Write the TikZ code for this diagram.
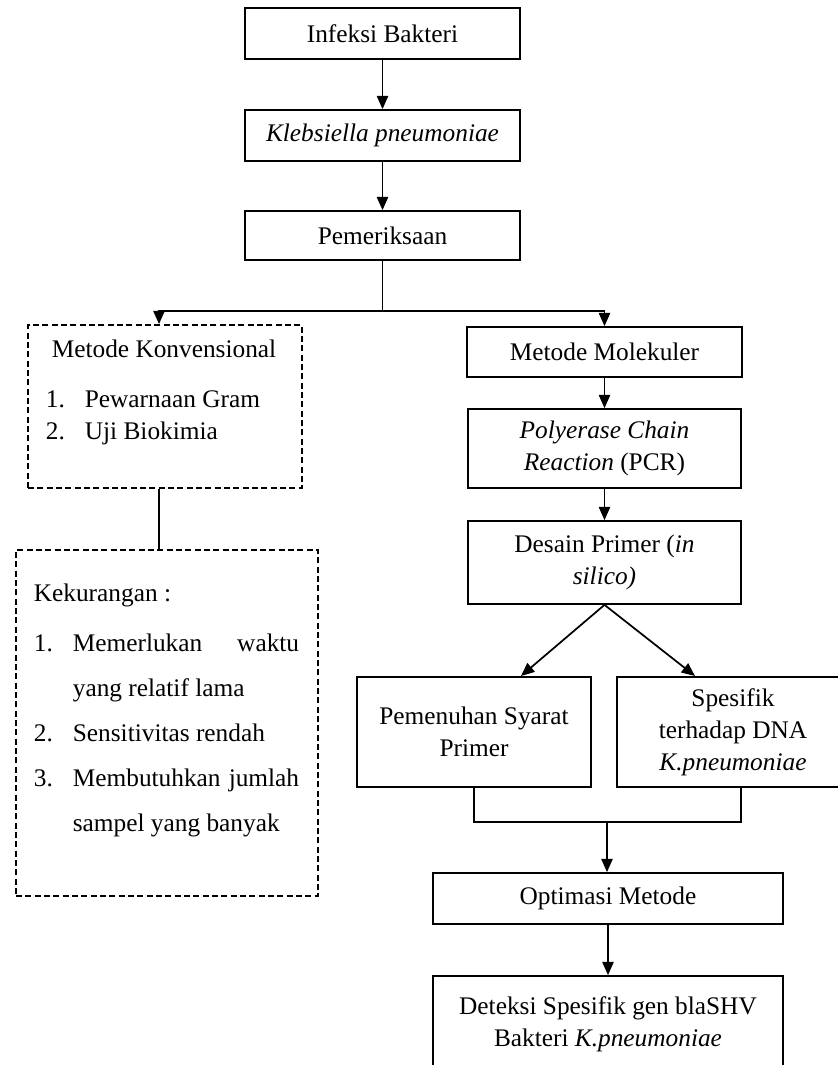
\documentclass[tikz,border=0pt]{standalone}
\usepackage{fontspec}
\setmainfont{Liberation Serif}
\usetikzlibrary{arrows.meta}

\tikzset{every picture/.style={line width=1.3pt}}
\tikzset{
  kotak/.style={draw, rectangle, align=center, inner sep=0.75pt, font=\fontsize{19pt}{24pt}\selectfont},
  kotakputus/.style={draw, rectangle, dash pattern=on 4.5pt off 2.5pt, inner sep=0pt},
  teks/.style={inner sep=0pt, font=\fontsize{19pt}{24pt}\selectfont},
  panah/.style={-{Triangle[length=10pt,width=8.5pt]}}
}

\begin{document}
\begin{tikzpicture}[x=0.75pt,y=0.75pt,yscale=-1,xscale=1]
\useasboundingbox (0,0) rectangle (838,1065);

% Kolom tengah atas
\node[kotak, minimum width=206.25pt, minimum height=38.25pt] (infeksi) at (382.5,33.5) {Infeksi Bakteri};
\node[kotak, minimum width=206.25pt, minimum height=38.25pt] (kleb) at (382.5,135.5) {\textit{Klebsiella pneumoniae}};
\node[kotak, minimum width=206.25pt, minimum height=36.75pt] (periksa) at (382.5,235.5) {Pemeriksaan};

\draw[panah] (infeksi) -- (kleb);
\draw[panah] (kleb) -- (periksa);

% Cabang
\coordinate (cabang) at (382.5,311);
\draw (periksa.south) -- (cabang);

% Metode konvensional (kiri)
\node[kotakputus, minimum width=205.5pt, minimum height=122.25pt] (konv) at (165,406.5) {};
\node[teks, anchor=base] (konvjudul) at (164,357.5) {Metode Konvensional};
\node[teks, anchor=base west] (no1) at (45,407.5) {1.};
\node[teks, anchor=base west] (gram) at (84,407.5) {Pewarnaan Gram};
\node[teks, anchor=base west] (no2) at (45,439.5) {2.};
\node[teks, anchor=base west] (biokimia) at (84,439.5) {Uji Biokimia};

\node[kotakputus, minimum width=226.5pt, minimum height=259.5pt] (kurang) at (167,723) {};
\node[teks, anchor=base west] (kurangjudul) at (33,601.5) {Kekurangan :};
\node[teks, anchor=base west] (k1) at (33,651.5) {1.};
\node[teks, anchor=base west] (k1a) at (72,651.5) {Memerlukan};
\node[teks, anchor=base east] (k1b) at (300,651.5) {waktu};
\node[teks, anchor=base west] (k1c) at (72,696.5) {yang relatif lama};
\node[teks, anchor=base west] (k2) at (33,741.5) {2.};
\node[teks, anchor=base west] (k2a) at (72,741.5) {Sensitivitas rendah};
\node[teks, anchor=base west] (k3) at (33,786.5) {3.};
\node[teks, anchor=base west] (k3a) at (72,786.5) {Membutuhkan};
\node[teks, anchor=base east] (k3b) at (300,786.5) {jumlah};
\node[teks, anchor=base west] (k3c) at (72,831.5) {sampel yang banyak};

\coordinate (konvatas) at ([xshift=-4.5pt]konv.north);
\coordinate (konvbawah) at ([xshift=-4.5pt]konv.south);
\draw[panah] (cabang) -| (konvatas);
\draw (konvbawah) -- (konvbawah |- kurang.north);

% Metode molekuler (kanan)
\node[kotak, minimum width=206.25pt, minimum height=37.5pt] (molekuler) at (604.5,352) {Metode Molekuler};
\node[kotak, minimum width=204.75pt, minimum height=59.25pt] (pcr) at (604.5,448.5) {\textit{Polyerase Chain}\\\textit{Reaction} (PCR)};
\node[kotak, minimum width=204.75pt, minimum height=62.25pt] (desain) at (604.5,562.5) {Desain Primer (\textit{in}\\\textit{silico)}};

\draw[panah] (cabang) -| (molekuler.north);
\draw[panah] (molekuler) -- (pcr);
\draw[panah] (pcr) -- (desain);

\node[kotak, minimum width=175.5pt, minimum height=82.5pt] (syarat) at (474,732) {Pemenuhan Syarat\\Primer};
\node[kotak, minimum width=174pt, minimum height=82.5pt] (spesifik) at (733,732) {Spesifik\\terhadap DNA\\\textit{K.pneumoniae}};

\coordinate (ujungkiri) at (521,676);
\coordinate (ujungkanan) at (695,676);
\draw[panah] (desain.south) -- (ujungkiri);
\draw[panah] (desain.south) -- (ujungkanan);

\node[kotak, minimum width=262.5pt, minimum height=38.25pt] (optimasi) at (608,898.5) {Optimasi Metode};
\node[kotak, minimum width=262.5pt, minimum height=72pt] (deteksi) at (608,1024) {Deteksi Spesifik gen blaSHV\\Bakteri \textit{K.pneumoniae}};

\coordinate (spesifikbawah) at (741,787);
\coordinate (gabung) at (607,822);
\draw (syarat.south) |- (gabung) -| (spesifikbawah);
\draw[panah] (gabung) -- (gabung |- optimasi.north);
\draw[panah] (optimasi) -- (deteksi);

\end{tikzpicture}
\end{document}
